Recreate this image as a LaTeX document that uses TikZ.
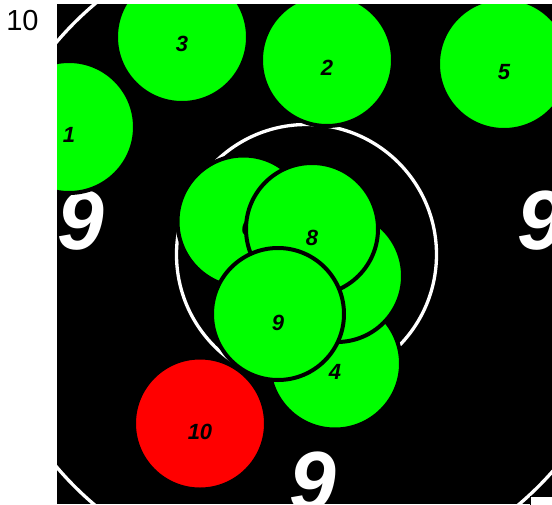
\documentclass[tikz,border=0pt]{standalone}
\usepackage{fontspec}
\setmainfont{Liberation Sans}
\definecolor{shotgreen}{HTML}{00FF00}
\definecolor{shotred}{HTML}{FF0000}
\begin{document}
\begin{tikzpicture}[x=1pt,y=-1pt,
  shot/.style={circle,draw=black,line width=4pt,fill=shotgreen,minimum size=132pt,inner sep=0pt},
  redshot/.style={shot,fill=shotred},
  lbl/.style={inner sep=0pt,font=\fontsize{22}{22}\selectfont\bfseries\itshape,text=black},
  ringnum/.style={inner sep=0pt,font=\fontsize{84}{84}\selectfont\bfseries\itshape,text=white},
  ring/.style={draw=white,line width=3.3pt}]
\useasboundingbox[fill=white] (0,0) rectangle (552,504);
\node[inner sep=0pt,font=\fontsize{29}{29}\selectfont] (title) at (22.5,21) {10};
\fill[black] (57,4) rectangle (552,504);
\begin{scope}
\clip (57,4) rectangle (552,504);
\coordinate (ctr) at (306.5,254.5);
\draw[ring] (ctr) circle[radius=328];
\draw[ring] (ctr) circle[radius=130];
\node[ringnum] (n9l) at (81,221) {9};
\node[ringnum] (n9r) at (541,221) {9};
\node[ringnum] (n9b) at (313,482) {9};
\node[shot] (s1) at (69,127) {};
\node[lbl] at ([yshift=-7.5pt]s1.center) {1};
\node[shot] (s2) at (327,60) {};
\node[lbl] at ([yshift=-8pt]s2.center) {2};
\node[shot] (s3) at (182,37) {};
\node[lbl] at ([yshift=-7pt]s3.center) {3};
\node[shot] (s4) at (335,363.5) {};
\node[lbl] at ([yshift=-8pt]s4.center) {4};
\node[shot] (s5) at (504,64) {};
\node[lbl] at ([yshift=-8pt]s5.center) {5};
\node[shot] (s6) at (243.5,221.5) {};
\node[lbl] at ([xshift=4pt,yshift=-6pt]s6.center) {6};
\node[shot] (s7) at (337,276) {};
\node[lbl] at ([yshift=-8pt]s7.center) {7};
\node[shot] (s8) at (312,229) {};
\node[lbl] at ([yshift=-9pt]s8.center) {8};
\node[shot] (s9) at (278,314) {};
\node[lbl] at ([yshift=-9pt]s9.center) {9};
\node[redshot] (s10) at (200,423.5) {};
\node[lbl] at ([yshift=-8pt]s10.center) {10};
\node[draw=black,line width=1pt,fill=white,minimum width=24pt,minimum height=10pt,inner sep=0pt,anchor=north west] (box) at (530,496) {};
\end{scope}
\end{tikzpicture}
\end{document}
